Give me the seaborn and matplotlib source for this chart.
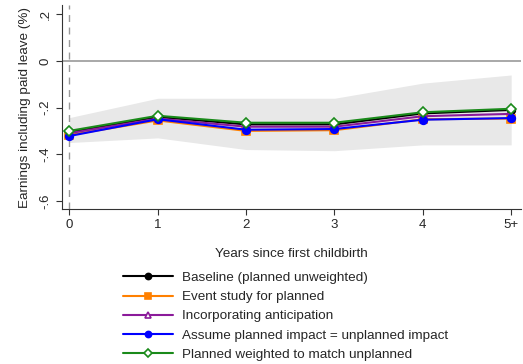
import pandas as pd
import matplotlib.pyplot as plt
import seaborn as sns

# estimates
years = [0, 1, 2, 3, 4, 5]
year_labels = ['0', '1', '2', '3', '4', '5+']
baseline = [-0.305, -0.240, -0.272, -0.272, -0.225, -0.210]
event_study = [-0.318, -0.255, -0.300, -0.297, -0.250, -0.247]
anticipation = [-0.310, -0.247, -0.282, -0.282, -0.237, -0.227]
assume_same = [-0.322, -0.250, -0.295, -0.292, -0.252, -0.245]
weighted = [-0.300, -0.235, -0.265, -0.265, -0.220, -0.205]
ci_low = [-0.350, -0.330, -0.380, -0.385, -0.360, -0.360]
ci_high = [-0.243, -0.160, -0.160, -0.160, -0.095, -0.060]

series = [
    ('Baseline (planned unweighted)', baseline, 'black', 'o', 'black'),
    ('Event study for planned', event_study, '#ff8000', 's', '#ff8000'),
    ('Incorporating anticipation', anticipation, '#8b1a9a', '^', 'white'),
    ('Assume planned impact = unplanned impact', assume_same, '#0000ff', 'o', '#0000ff'),
    ('Planned weighted to match unplanned', weighted, '#1a8a1a', 'D', 'white'),
]

rows = []
for name, vals, *_ in series:
    for x, v in zip(years, vals):
        rows.append({'year': x, 'value': v, 'series': name})
df = pd.DataFrame(rows)

sns.set_style('white')
plt.rcParams['font.family'] = ['Liberation Sans', 'DejaVu Sans']

fig = plt.figure(figsize=(5.23, 3.64), dpi=100)
ax = fig.add_axes([0.119, 0.426, 0.877, 0.56])

ax.fill_between(years, ci_low, ci_high, color='#e8e8e8', lw=0, zorder=1)
ax.axhline(0, color='#999999', lw=1.2, zorder=2)
ax.axvline(0, color='#999999', lw=1, ls=(0, (5, 4)), zorder=2)

for name, vals, col, mk, face in series:
    sns.lineplot(data=df[df['series'] == name], x='year', y='value', ax=ax,
                 color=col, marker=mk, markerfacecolor=face, markeredgecolor=col,
                 markeredgewidth=1.2, markersize=5.5 if mk != '^' else 5,
                 lw=1.5, label=name, zorder=3)

ax.set_xlim(-0.08, 5.11)
ax.set_ylim(-0.635, 0.24)
ax.set_xticks(years)
ax.set_xticklabels(year_labels)
ax.set_yticks([0.2, 0, -0.2, -0.4, -0.6])
ax.set_yticklabels(['.2', '0', '-.2', '-.4', '-.6'], rotation=90, va='center')
ax.tick_params(axis='both', direction='out', length=4, width=0.8, color='#333333',
               labelsize=9.5, bottom=True, left=True)
for s in ['top', 'right']:
    ax.spines[s].set_visible(False)
for s in ['left', 'bottom']:
    ax.spines[s].set_color('#333333')
    ax.spines[s].set_linewidth(0.8)

ax.set_xlabel('Years since first childbirth', fontsize=9.7, labelpad=12)
ax.set_ylabel('Earnings including paid leave (%)', fontsize=9.7, labelpad=6)

handles, labels = ax.get_legend_handles_labels()
ax.get_legend().remove()
fig.legend(handles, labels, loc='upper left', bbox_to_anchor=(0.222, 0.272),
           frameon=False, fontsize=9.7, handlelength=3.7, handletextpad=0.7,
           labelspacing=0.5, borderpad=0, markerscale=0.8)

fig.savefig('out.png', dpi=100)
